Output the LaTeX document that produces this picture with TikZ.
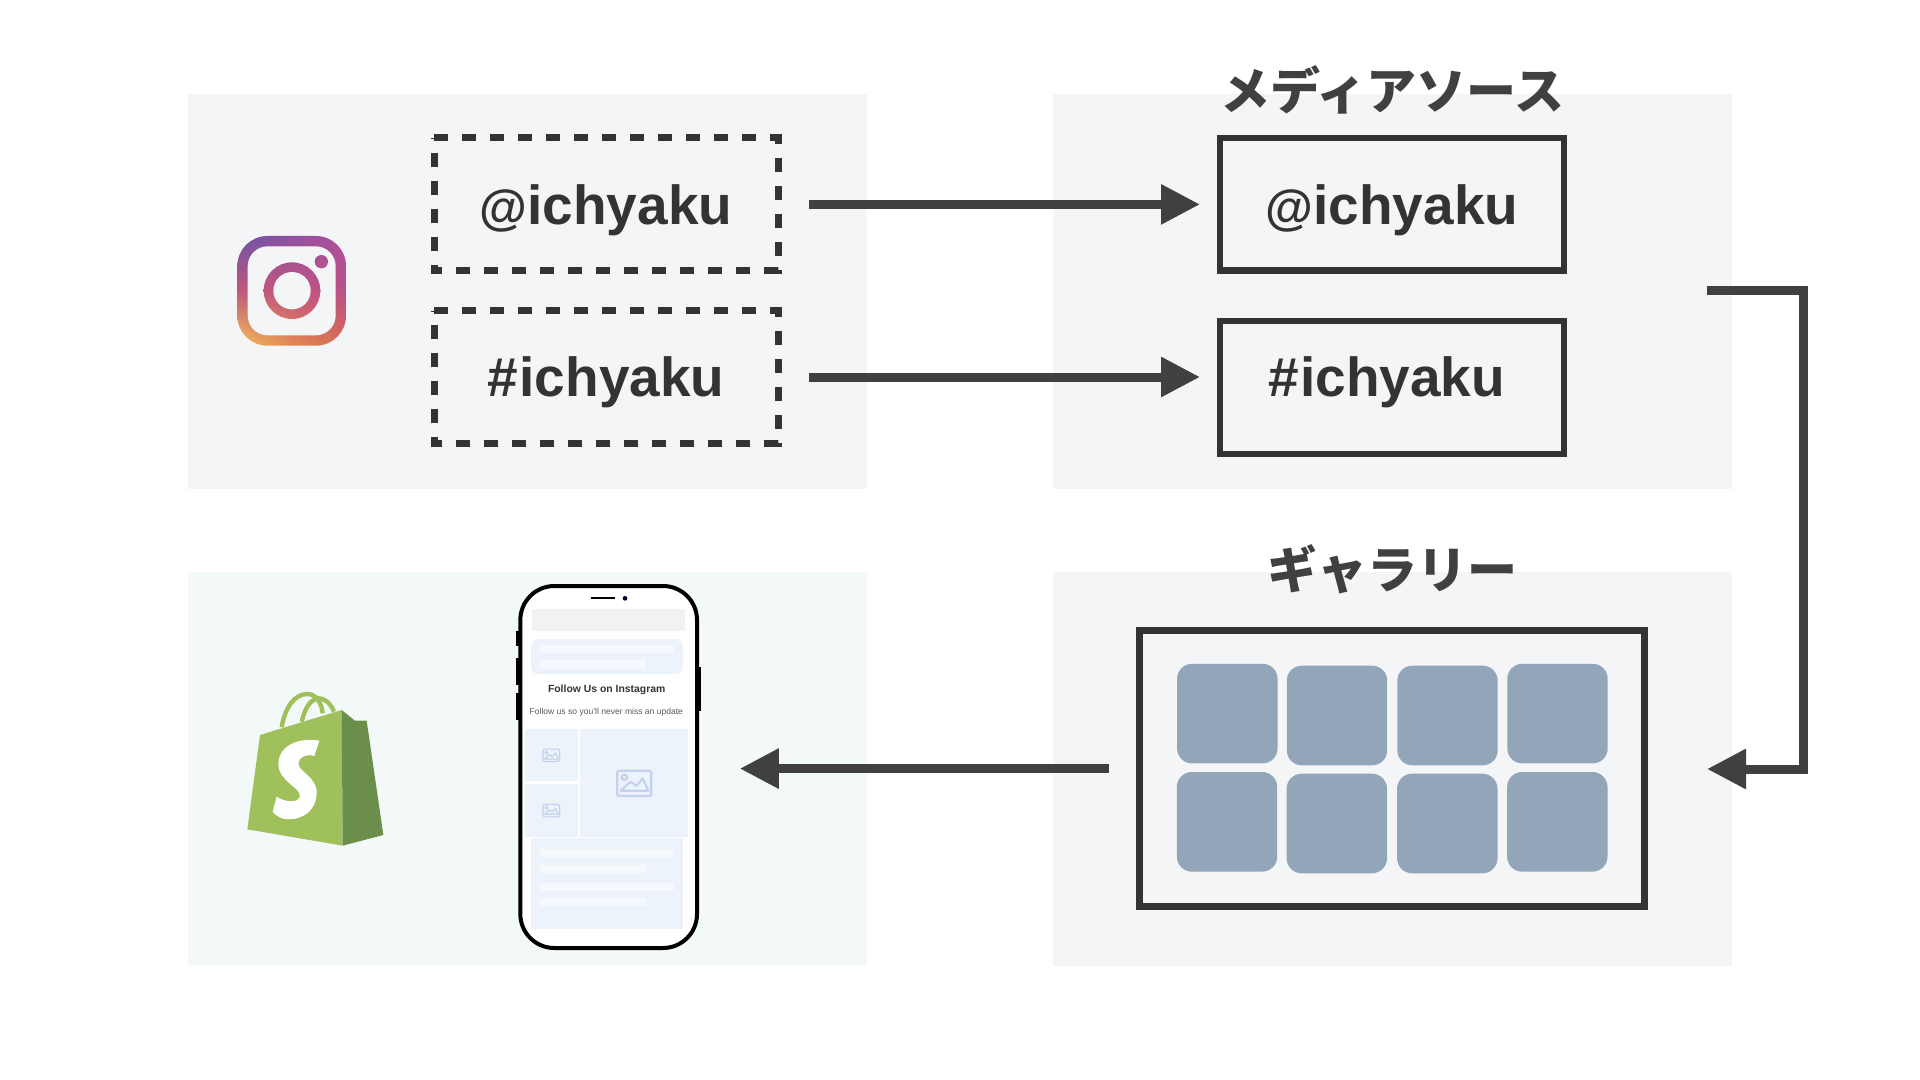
\documentclass[tikz,border=0pt]{standalone}
\usepackage{fontspec}
\setmainfont{Liberation Sans}
\newfontfamily\jpfont{Noto Sans CJK JP}
\usetikzlibrary{arrows.meta,calc,shadings}
\definecolor{panelgray}{HTML}{F4F5F7}
\definecolor{panelmint}{HTML}{F3F9F9}
\definecolor{ink}{HTML}{333333}
\definecolor{arrowink}{HTML}{404040}
\definecolor{tile}{HTML}{92A5B9}
\definecolor{cardblue}{HTML}{EDF3FB}
\definecolor{cardbar}{HTML}{F5F8FD}
\definecolor{iconblue}{HTML}{C4D2EE}
\definecolor{shopL}{HTML}{A0C05B}
\definecolor{shopD}{HTML}{6B8F4B}
\tikzset{
  every node/.style={outer sep=0pt,inner sep=0pt},
  panel/.style={fill=panelgray,minimum width=339.5pt,minimum height=197pt},
  hbox/.style={minimum width=171.8pt,minimum height=66.4pt},
  dashbox/.style={draw=ink,line width=3.5pt,dash pattern=on 7pt off 7pt},
  solidbox/.style={draw=ink,line width=3.3pt,minimum width=172pt},
  handle/.style={font=\bfseries\fontsize{27.5}{30}\selectfont,text=ink,anchor=base},
  heading/.style={font=\jpfont\bfseries\fontsize{25}{28}\selectfont,text=arrowink},
  flow/.style={draw=arrowink,line width=4.5pt,-{Triangle[length=19.5pt,width=19pt]}},
  tilebox/.style={fill=tile,rounded corners=7.5pt,minimum width=50.2pt,minimum height=49.8pt},
}
\definecolor{igTL}{HTML}{6A52A8}
\definecolor{igTM}{HTML}{8F52A0}
\definecolor{igTR}{HTML}{B0509A}
\definecolor{igML}{HTML}{C0587A}
\definecolor{igMM}{HTML}{C5547F}
\definecolor{igMR}{HTML}{B85088}
\definecolor{igBL}{HTML}{F4BE5A}
\definecolor{igBM}{HTML}{E08A55}
\definecolor{igBR}{HTML}{D96A52}
\newcommand{\igshade}{%
  \shade[upper left=igTL,upper right=igTM,lower left=igML,lower right=igMM] (172,108) rectangle (336,273);
  \shade[upper left=igTM,upper right=igTR,lower left=igMM,lower right=igMR] (335,108) rectangle (498,273);
  \shade[upper left=igML,upper right=igMM,lower left=igBL,lower right=igBM] (172,272) rectangle (336,437);
  \shade[upper left=igMM,upper right=igMR,lower left=igBM,lower right=igBR] (335,272) rectangle (498,437);}
\newcommand{\imgicon}[4]{%
  \begin{scope}[shift={(#1,#2)},scale=#3]
    \draw[iconblue,line width=#4,rounded corners=1pt] (-51,-38) rectangle (51,38);
    \draw[iconblue,line width=#4] (-30,-18) circle[radius=8];
    \draw[iconblue,line width=#4,line join=round] (-41,22) -- (-11,-5) -- (7,8) -- (25,-15) -- (42,22) -- cycle;
  \end{scope}}
\begin{document}
\begin{tikzpicture}[x=0.5pt,y=-0.5pt]
\useasboundingbox (0,0) rectangle (1920,1080);
\fill[white] (0,0) rectangle (1920,1080);
% panels
\node[panel] (pa) at (527.5,291.5) {};
\node[panel] (pb) at (1392,291.5) {};
\node[panel,fill=panelmint] (pc) at (527.5,769) {};
\node[panel] (pd) at (1392,769) {};
% headings
\node[heading] (h1) at (1392,90) {メディアソース};
\node[heading] (h2) at (1392,569) {ギャラリー};
% dashed source boxes
\node[hbox] (d1) at (606.2,204.4) {};
\node[hbox] (d2) at (606.2,377) {};
\draw[dashbox] (d1.north west) -- (d1.north east) -- (d1.south east) -- (d1.south west) -- cycle;
\draw[dashbox] (d2.north west) -- (d2.north east) -- (d2.south east) -- (d2.south west) -- cycle;
\node[handle] (d1t) at (606,225) {{\fontsize{24.5}{30}\selectfont @}ichyaku};
\node[handle] (d2t) at (606,396) {\#\kern0.8pt ichyaku};
% media source boxes
\node[solidbox,minimum height=66.4pt] (s1) at (1392,204.4) {};
\node[solidbox,minimum height=66.4pt] (s2) at (1392,387.4) {};
\node[handle] (s1t) at (1392,225) {{\fontsize{24.5}{30}\selectfont @}ichyaku};
\node[handle] (s2t) at (1386.5,396) {\#\kern0.8pt ichyaku};
% gallery
\node[draw=ink,line width=3.5pt,minimum width=252.2pt,minimum height=138.2pt] (g) at (1391.8,768.6) {};
\node[tilebox] (t1) at (1227.3,713.6) {};
\node[tilebox] (t2) at (1337,715.5) {};
\node[tilebox] (t3) at (1447.5,715.5) {};
\node[tilebox] (t4) at (1557.5,713.6) {};
\node[tilebox] (t5) at (1227,821.8) {};
\node[tilebox] (t6) at (1336.8,823.5) {};
\node[tilebox] (t7) at (1447.3,823.5) {};
\node[tilebox] (t8) at (1557.3,821.8) {};
% phone body
\node[minimum width=88.3pt,minimum height=180.8pt] (ph) at (608.7,767.2) {};
% connectors
\draw[flow,shorten <=15.5pt,shorten >=10pt] (d1.east) -- (s1.west);
\draw[flow,shorten <=15.5pt,shorten >=10pt] (d2.east) -- (d2.east -| s2.west);
\coordinate (out) at (1707,290.4);
\coordinate (c1) at (1803,290.4);
\coordinate (c2) at (1803,769);
\coordinate (in) at (1707,769);
\draw[flow] (out) -- (c1) -- (c2) -- (in);
\draw[flow,shorten <=15.5pt,shorten >=21.4pt] (g.west) -- (g.west -| ph.east);
% instagram glyph
\begin{scope}[shift={(180,200)},x=0.16667pt,y=-0.16667pt]
  \begin{scope}
    \clip[rounded corners=15pt] (172,108) rectangle (498,437);
    \igshade
  \end{scope}
  \fill[panelgray,rounded corners=10pt] (203,139) rectangle (467,406);
  \begin{scope}
    \clip (336,272) circle[radius=85];
    \igshade
  \end{scope}
  \fill[panelgray] (336,272) circle[radius=56];
  \begin{scope}
    \clip (424,185) circle[radius=20];
    \igshade
  \end{scope}
\end{scope}
% shopify bag
\begin{scope}[shift={(220,670)},x=0.16667pt,y=-0.16667pt]
  \draw[shopL,line width=2.2pt] (185,172) .. controls (195,110) and (225,72) .. (262,72) .. controls (290,72) and (305,100) .. (308,130);
  \draw[shopL,line width=2.2pt] (245,155) .. controls (255,115) and (270,88) .. (295,85) .. controls (318,85) and (335,105) .. (342,125);
  \fill[shopL] (120,195) -- (365,120) -- (368,527) -- (82,478) -- cycle;
  \fill[shopD] (365,120) -- (405,152) -- (440,152) -- (490,495) -- (368,527) -- cycle;
  \fill[white] (298,212) -- (283,258) .. controls (262,250) and (235,262) .. (235,280)
     .. controls (235,305) and (290,320) .. (290,368)
     .. controls (290,420) and (250,448) .. (205,448)
     .. controls (185,448) and (168,438) .. (158,425) -- (170,380)
     .. controls (185,392) and (235,405) .. (240,378)
     .. controls (240,350) and (175,335) .. (175,280)
     .. controls (175,235) and (225,200) .. (298,212) -- cycle;
\end{scope}
% phone
\begin{scope}[shift={(500,570)},x=0.16667pt,y=-0.16667pt]
  \fill[black] (48,183) rectangle (58,228);
  \fill[black] (48,265) rectangle (58,345);
  \fill[black] (48,370) rectangle (58,450);
  \fill[black] (592,292) rectangle (603,422);
  \draw[black,fill=white,line width=2pt,rounded corners=17pt] (61,48) rectangle (591,1134);
  \draw[black,line width=1pt] (272,85) -- (345,85);
  \fill[black!85!blue] (375,85) circle[radius=7];
  \fill[black!5] (95,118) rectangle (555,182);
  \fill[cardblue,rounded corners=3.5pt] (93,207) rectangle (549,312);
  \fill[cardbar] (121,225) rectangle (521,248);
  \fill[cardbar] (121,271) rectangle (439,296);
  \node[font=\bfseries\fontsize{5.2}{6}\selectfont,text=ink] (ftitle) at (320,360) {Follow Us on Instagram};
  \node[font=\fontsize{4.27}{5}\selectfont,text=black!65] (fsub) at (319,427) {Follow us so you'll never miss an update};
  \fill[cardblue] (76,476) rectangle (233,633);
  \fill[cardblue] (76,641) rectangle (233,800);
  \fill[cardblue] (240,476) rectangle (565,800);
  \fill[cardblue] (93,805) rectangle (549,1078);
  \fill[cardbar] (121,838) rectangle (521,862);
  \fill[cardbar] (121,885) rectangle (439,909);
  \fill[cardbar] (121,938) rectangle (521,962);
  \fill[cardbar] (121,984) rectangle (439,1008);
  \imgicon{403}{640}{1}{1.1pt}
  \imgicon{154}{556}{0.49}{0.6pt}
  \imgicon{154}{722}{0.49}{0.6pt}
\end{scope}
\end{tikzpicture}
\end{document}
